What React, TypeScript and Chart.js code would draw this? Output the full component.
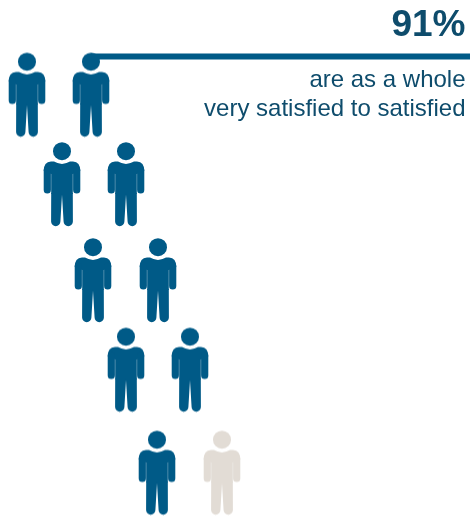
import React, { useEffect, useRef } from "react";
import { Chart, registerables } from "chart.js";

Chart.register(...registerables);

// Pictogram: ten figures, of which the first nine count as satisfied.
const personX = [27, 91, 62, 126, 93, 158, 126, 190, 157, 222];
const personY = [94.5, 94.5, 184, 184, 280, 280, 369.5, 369.5, 472.5, 472.5];
const satisfiedCount = 9;
const leaderX = [91, 470];
const leaderY = [56.5, 56.5];
const headline = "91%";
const captionLines = ["are as a whole", "very satisfied to satisfied"];

const BLUE = "#005a87";
const BEIGE = "#e2dcd5";
const INK = "#0e4c6c";

// Paints one standing figure on its own small canvas, used as a point style.
function makeFigure(color: string): HTMLCanvasElement {
  const w = 40;
  const h = 86;
  const c = document.createElement("canvas");
  c.width = w;
  c.height = h;
  const g = c.getContext("2d")!;
  const cx = w / 2;
  g.fillStyle = color;
  g.strokeStyle = color;
  g.lineCap = "round";
  g.lineJoin = "round";

  g.beginPath();
  g.arc(cx, 10.2, 9, 0, Math.PI * 2);
  g.fill();

  // Torso with shoulders and a small dip at the neck
  g.beginPath();
  g.moveTo(cx, 23);
  g.quadraticCurveTo(cx + 5, 22.6, cx + 8, 20.6);
  g.lineTo(cx + 11, 20.6);
  g.quadraticCurveTo(cx + 18.3, 21, cx + 18.3, 30);
  g.lineTo(cx + 10.8, 33);
  g.lineTo(cx + 10.8, 53);
  g.lineTo(cx - 10.8, 53);
  g.lineTo(cx - 10.8, 33);
  g.lineTo(cx - 18.3, 30);
  g.quadraticCurveTo(cx - 18.3, 21, cx - 11, 20.6);
  g.lineTo(cx - 8, 20.6);
  g.quadraticCurveTo(cx - 5, 22.6, cx, 23);
  g.closePath();
  g.fill();

  // Arms
  g.lineWidth = 7.2;
  for (const s of [-1, 1]) {
    g.beginPath();
    g.moveTo(cx + s * 14.7, 29);
    g.lineTo(cx + s * 14.7, 49);
    g.stroke();
  }

  // Legs, touching at the hip and parting slightly towards the feet
  const legs = [
    { hipL: -10.8, hipR: 0.1, footR: -1.6, foot: -6.25 },
    { hipL: -0.1, hipR: 10.8, footR: 10.9, foot: 6.25 },
  ];
  for (const leg of legs) {
    g.beginPath();
    g.moveTo(cx + leg.hipL, 52);
    g.lineTo(cx + leg.hipR, 52);
    g.lineTo(cx + leg.footR, 80.5);
    g.arc(cx + leg.foot, 80.5, 4.65, 0, Math.PI);
    g.closePath();
    g.fill();
  }
  return c;
}

// Right-aligned headline and caption in the upper corner.
const captionPlugin = {
  id: "caption",
  afterDatasetsDraw(chart: Chart) {
    const { ctx, scales } = chart;
    const right = scales.x.getPixelForValue(465.5);
    ctx.save();
    ctx.textAlign = "right";
    ctx.textBaseline = "alphabetic";
    ctx.fillStyle = INK;
    ctx.font = "bold 37px 'Liberation Sans'";
    ctx.fillText(headline, right, scales.y.getPixelForValue(36));
    ctx.font = "24px 'Liberation Sans'";
    captionLines.forEach((line, i) => {
      ctx.fillText(line, right, scales.y.getPixelForValue(87 + i * 29));
    });
    ctx.restore();
  },
};

export default function App() {
  const ref = useRef<HTMLCanvasElement>(null);

  useEffect(() => {
    const filled = makeFigure(BLUE);
    const empty = makeFigure(BEIGE);
    const chart = new Chart(ref.current!, {
      type: "scatter",
      data: {
        datasets: [
          {
            label: "Leader",
            data: leaderX.map((x, i) => ({ x, y: leaderY[i] })),
            showLine: true,
            borderColor: BLUE,
            borderWidth: 6,
            pointRadius: 0,
          },
          {
            label: "Respondents",
            data: personX.map((x, i) => ({ x, y: personY[i] })),
            pointStyle: personX.map((_, i) => (i < satisfiedCount ? filled : empty)),
            pointRadius: 20,
            clip: false,
          },
        ],
      },
      options: {
        animation: false,
        responsive: false,
        layout: { padding: 0, autoPadding: false },
        plugins: { legend: { display: false }, tooltip: { enabled: false } },
        scales: {
          x: { type: "linear", min: 0, max: 470, display: false },
          y: { type: "linear", min: 0, max: 517, reverse: true, display: false },
        },
      },
      plugins: [captionPlugin],
    });
    return () => chart.destroy();
  }, []);

  return (
    <canvas
      ref={ref}
      width={470}
      height={517}
      style={{ position: "absolute", left: 0, top: 0, width: 470, height: 517 }}
    />
  );
}
